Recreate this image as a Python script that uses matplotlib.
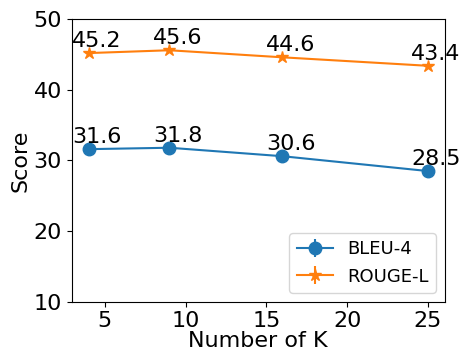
import matplotlib.pyplot as plt

k_values = [4, 9, 16, 25]
bleu4 = [31.6, 31.8, 30.6, 28.5]
rouge_l = [45.2, 45.6, 44.6, 43.4]

plt.rcParams['font.size'] = 16

fig = plt.figure(figsize=(4.62, 3.55), dpi=100)
ax = fig.add_axes([0.155, 0.150, 0.808, 0.796])

ax.errorbar(k_values, bleu4, yerr=0, marker='o', markersize=9, label='BLEU-4')
ax.errorbar(k_values, rouge_l, yerr=0, marker='*', markersize=9, label='ROUGE-L')

# value labels sit a little to the right of each point
for x, y in zip(k_values, bleu4):
    ax.text(x + 0.5, y + 0.3, str(y), ha='center', va='bottom', fontsize=16)
for x, y in zip(k_values, rouge_l):
    ax.text(x + 0.5, y + 0.3, str(y), ha='center', va='bottom', fontsize=16)

ax.set_ylim(10, 50)
ax.set_xticks([5, 10, 15, 20, 25])
ax.set_yticks([10, 20, 30, 40, 50])
ax.set_xlabel('Number of K', labelpad=0)
ax.set_ylabel('Score', labelpad=2)
ax.legend(loc='lower right', fontsize=13)

plt.savefig('out.png', dpi=100)
